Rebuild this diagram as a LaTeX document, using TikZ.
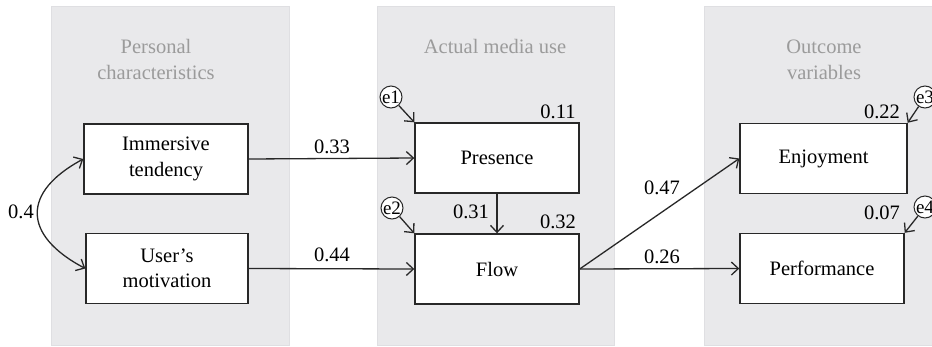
\documentclass[tikz,border=0pt]{standalone}
\usepackage{fontspec}
\setmainfont{Liberation Serif}
\usetikzlibrary{arrows.meta}
\definecolor{panel}{RGB}{233,233,235}
\definecolor{paneledge}{RGB}{223,223,226}
\definecolor{titlegray}{RGB}{155,155,155}
\definecolor{ink}{RGB}{40,40,40}
\begin{document}
\begin{tikzpicture}[x=1pt,y=-1pt,
  panelbox/.style={fill=panel,draw=paneledge,line width=1pt},
  paneltitle/.style={text=titlegray,align=center,font=\fontsize{20.5}{26}\selectfont,inner sep=0pt},
  var/.style={draw=ink,line width=1.4pt,fill=white,minimum width=164pt,minimum height=70pt,align=center,font=\fontsize{20.5}{25.5}\selectfont,inner sep=0pt},
  err/.style={circle,draw=ink,line width=1pt,fill=white,minimum size=22pt,inner sep=0pt,font=\fontsize{19}{19}\selectfont},
  lbl/.style={font=\fontsize{20.5}{20.5}\selectfont,inner sep=0pt,text=black},
  conn/.style={draw=ink,line width=1.3pt,-{Straight Barb[length=7pt,width=13pt]}},
  dconn/.style={draw=ink,line width=1.3pt,{Straight Barb[length=7pt,width=13pt]}-{Straight Barb[length=7pt,width=13pt]}},
]
\useasboundingbox (0,0) rectangle (932,346);
\fill[white] (0,0) rectangle (932,346);
% panels
\draw[panelbox] (51,6) rectangle (289,345);
\draw[panelbox] (377,6) rectangle (614,345);
\draw[panelbox] (704,6) rectangle (942,345);
\node[paneltitle] (t1) at (156,59) {Personal\\characteristics};
\node[paneltitle] (t2) at (495,46) {Actual media use};
\node[paneltitle] (t3) at (824,60) {Outcome\\variables};
% variables
\node[var] (imm) at (166,159) {Immersive\\tendency};
\node[var,minimum width=162pt] (mot) at (167,268.5) {User's\\motivation};
\node[var] (prs) at (497,158) {Presence};
\node[var] (flow) at (497,269) {Flow};
\node[var,minimum width=167pt] (enj) at (823.5,158.5) {Enjoyment};
\node[var] (perf) at (822,268.5) {Performance};
% error terms
\node[err] (e1) at (391,97) {e1};
\node[err] (e2) at (392,208) {e2};
\node[err] (e3) at (925,97) {e3};
\node[err] (e4) at (925,207) {e4};
% connectors
\draw[dconn] (imm.west) .. controls (22,192) and (22,235) .. (mot.west);
\draw[conn] (imm.east) -- (prs.west);
\draw[conn] (mot.east) -- (flow.west);
\draw[conn] (prs.south) -- (flow.north);
\draw[conn] (flow.east) -- (enj.west);
\draw[conn] (flow.east) -- (perf.west);
\draw[conn] (e1) -- (prs.north west);
\draw[conn] (e2) -- (flow.north west);
\draw[conn] (e3) -- (enj.north east);
\draw[conn] (e4) -- (perf.north east);
% labels
\node[lbl] (l04) at (21,212) {0.4};
\node[lbl] (l033) at (332,147) {0.33};
\node[lbl] (l044) at (332,255) {0.44};
\node[lbl] (l011) at (558,112) {0.11};
\node[lbl] (l032) at (558,222) {0.32};
\node[lbl] (l031) at (471,212) {0.31};
\node[lbl] (l047) at (662,188) {0.47};
\node[lbl] (l026) at (662,257) {0.26};
\node[lbl] (l022) at (882,112) {0.22};
\node[lbl] (l007) at (882,213) {0.07};
\end{tikzpicture}
\end{document}
